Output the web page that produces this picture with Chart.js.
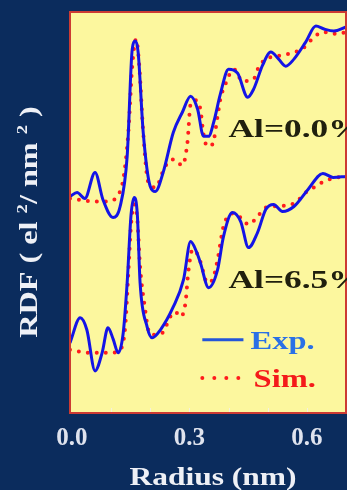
<!DOCTYPE html>
<html>
<head>
<meta charset="utf-8">
<script src="https://cdn.jsdelivr.net/npm/chart.js@4.4.1/dist/chart.umd.min.js"></script>
<style>
  html, body { margin: 0; padding: 0; background: #0b2c5d; }
  #wrap { width: 347px; height: 490px; }
</style>
</head>
<body>
<div id="wrap"><canvas id="rdf"></canvas></div>
<script>
// Al = 0.0 %  (upper pair, offset curves)
const radiusExp0 = [-0.005, 0.013, 0.033, 0.059, 0.079, 0.105, 0.123, 0.141, 0.154, 0.162, 0.169, 0.182, 0.200, 0.213, 0.233, 0.259, 0.282, 0.303, 0.321, 0.336, 0.349, 0.362, 0.379, 0.400, 0.423, 0.449, 0.464, 0.487, 0.508, 0.528, 0.546, 0.567, 0.597, 0.623, 0.644, 0.669, 0.700];
const rdfExp0    = [2.16, 2.20, 2.14, 2.40, 2.13, 1.95, 2.06, 2.56, 3.63, 3.71, 3.60, 2.80, 2.26, 2.21, 2.40, 2.80, 3.00, 3.16, 3.03, 2.76, 2.76, 2.90, 3.18, 3.43, 3.39, 3.15, 3.23, 3.47, 3.60, 3.53, 3.46, 3.53, 3.70, 3.86, 3.83, 3.81, 3.85];
const radiusSim0 = [-0.005, 0.064, 0.090, 0.115, 0.131, 0.144, 0.154, 0.164, 0.172, 0.182, 0.195, 0.213, 0.238, 0.259, 0.282, 0.295, 0.303, 0.315, 0.328, 0.336, 0.346, 0.359, 0.372, 0.379, 0.392, 0.413, 0.436, 0.464, 0.477, 0.495, 0.526, 0.551, 0.577, 0.597, 0.618, 0.644, 0.679, 0.700];
const rdfSim0    = [2.14, 2.11, 2.11, 2.16, 2.33, 2.80, 3.46, 3.73, 3.46, 2.80, 2.30, 2.25, 2.46, 2.53, 2.47, 2.70, 3.08, 3.12, 3.03, 2.78, 2.66, 2.68, 2.96, 3.13, 3.28, 3.43, 3.31, 3.33, 3.45, 3.53, 3.56, 3.58, 3.61, 3.66, 3.75, 3.80, 3.78, 3.80];

// Al = 6.5 %  (lower pair)
const radiusExp65 = [-0.005, 0.021, 0.038, 0.059, 0.077, 0.092, 0.105, 0.118, 0.131, 0.141, 0.151, 0.159, 0.167, 0.174, 0.192, 0.205, 0.226, 0.259, 0.285, 0.303, 0.318, 0.328, 0.349, 0.372, 0.387, 0.410, 0.431, 0.451, 0.474, 0.495, 0.515, 0.538, 0.567, 0.603, 0.641, 0.667, 0.700];
const rdfExp65    = [0.70, 0.95, 0.83, 0.42, 0.60, 0.85, 0.74, 0.60, 0.80, 1.30, 1.98, 2.15, 1.98, 1.30, 0.86, 0.75, 0.83, 1.06, 1.33, 1.71, 1.61, 1.50, 1.25, 1.43, 1.76, 2.00, 1.91, 1.65, 1.80, 2.03, 2.08, 2.01, 2.06, 2.23, 2.39, 2.35, 2.36];
const radiusSim65 = [-0.005, 0.046, 0.097, 0.123, 0.136, 0.144, 0.151, 0.159, 0.167, 0.174, 0.187, 0.195, 0.205, 0.231, 0.251, 0.264, 0.277, 0.290, 0.297, 0.308, 0.318, 0.328, 0.346, 0.359, 0.372, 0.387, 0.410, 0.431, 0.451, 0.474, 0.495, 0.551, 0.577, 0.597, 0.618, 0.644, 0.679, 0.700];
const rdfSim65    = [0.63, 0.60, 0.60, 0.63, 0.86, 1.40, 1.88, 2.08, 1.93, 1.46, 1.03, 0.83, 0.78, 0.80, 0.96, 1.01, 0.96, 1.10, 1.40, 1.63, 1.60, 1.51, 1.30, 1.33, 1.53, 1.86, 1.99, 1.95, 1.88, 1.96, 2.05, 2.07, 2.12, 2.20, 2.25, 2.31, 2.35, 2.36];

const xTicks = [0.0, 0.1, 0.2, 0.3, 0.4, 0.5, 0.6];
const xLabels = [0.0, 0.3, 0.6];
const curveLabels = ['Al=0.0%', 'Al=6.5%'];
const seriesNames = ['Exp.', 'Sim.'];

const toPoints = (xs, ys) => xs.map((x, i) => ({ x: x, y: ys[i] }));

const SERIF = "'Liberation Serif', 'Times New Roman', serif";
const BLUE = '#1414e6';
const RED = '#ff1c1c';

// text helper, stretched a bit wider like the original bitmap fonts
function stretchedText(ctx, str, x, y, size, color, sx, align) {
    ctx.save();
    ctx.font = 'bold ' + size + 'px ' + SERIF;
    ctx.fillStyle = color;
    ctx.textBaseline = 'alphabetic';
    const w = ctx.measureText(str).width * sx;
    let left = x;
    if (align == 'center') left = x - w / 2;
    ctx.translate(left, y);
    ctx.scale(sx, 1);
    ctx.fillText(str, 0, 0);
    ctx.restore();
}

const decorations = {
    id: 'decorations',
    beforeDraw(chart) {
        const { ctx, chartArea: a } = chart;
        ctx.save();
        ctx.fillStyle = '#0b2c5d';
        ctx.fillRect(0, 0, chart.width, chart.height);
        ctx.fillStyle = '#fcf79e';
        ctx.fillRect(a.left, a.top, a.right - a.left, a.bottom - a.top);
        ctx.restore();
    },
    afterDraw(chart) {
        const { ctx, chartArea: a, scales } = chart;
        const xs = scales.x, ys = scales.y;

        // frame
        ctx.save();
        ctx.strokeStyle = '#cc3b33';
        ctx.lineWidth = 2;
        ctx.strokeRect(a.left, a.top, a.right - a.left, a.bottom - a.top);

        // small inner ticks on the bottom edge
        ctx.strokeStyle = '#f4f0e0';
        ctx.lineWidth = 1;
        xs.ticks.forEach(t => {
            if (t.value <= 0) return;
            const px = Math.round(xs.getPixelForValue(t.value)) + 0.5;
            ctx.beginPath();
            ctx.moveTo(px, a.bottom - 1);
            ctx.lineTo(px, a.bottom - 5);
            ctx.stroke();
        });
        ctx.restore();

        // curve labels
        stretchedText(ctx, curveLabels[0], xs.getPixelForValue(0.4), ys.getPixelForValue(2.75), 26, '#20200e', 1.36, 'left');
        stretchedText(ctx, curveLabels[1], xs.getPixelForValue(0.4), ys.getPixelForValue(1.25), 26, '#20200e', 1.36, 'left');

        // legend
        ctx.save();
        const ly1 = ys.getPixelForValue(0.73);
        ctx.strokeStyle = '#2456d8';
        ctx.lineWidth = 3;
        ctx.beginPath();
        ctx.moveTo(xs.getPixelForValue(0.333), ly1);
        ctx.lineTo(xs.getPixelForValue(0.438), ly1);
        ctx.stroke();
        const ly2 = ys.getPixelForValue(0.35);
        ctx.strokeStyle = RED;
        ctx.lineWidth = 4;
        ctx.lineCap = 'round';
        ctx.setLineDash([0, 12]);
        ctx.beginPath();
        ctx.moveTo(xs.getPixelForValue(0.333), ly2);
        ctx.lineTo(xs.getPixelForValue(0.43), ly2);
        ctx.stroke();
        ctx.restore();
        stretchedText(ctx, seriesNames[0], xs.getPixelForValue(0.456), ly1 + 9, 26, '#2a70e6', 1.25, 'left');
        stretchedText(ctx, seriesNames[1], xs.getPixelForValue(0.464), ly2 + 9, 26, '#f41a1a', 1.25, 'left');

        // axis titles
        stretchedText(ctx, 'Radius (nm)', 213, 485, 25, '#eef0f6', 1.26, 'center');

        ctx.save();
        ctx.translate(37, 222);
        ctx.rotate(-Math.PI / 2);
        const parts = [['RDF ( el ', 26, 0], ['2', 15, -10], ['/ nm ', 26, 0], ['2', 15, -10], [' )', 26, 0]];
        const sx = 1.24;
        let total = 0;
        parts.forEach(p => { ctx.font = 'bold ' + p[1] + 'px ' + SERIF; total += ctx.measureText(p[0]).width * sx; });
        let cx = -total / 2;
        ctx.fillStyle = '#eef0f6';
        parts.forEach(p => {
            ctx.font = 'bold ' + p[1] + 'px ' + SERIF;
            const w = ctx.measureText(p[0]).width * sx;
            ctx.save();
            ctx.translate(cx, p[2]);
            ctx.scale(sx, 1);
            ctx.fillText(p[0], 0, 0);
            ctx.restore();
            cx += w;
        });
        ctx.restore();
    }
};

const ctx = document.getElementById('rdf');
new Chart(ctx, {
    type: 'line',
    data: {
        datasets: [
            { label: 'Exp. Al=0.0%', data: toPoints(radiusExp0, rdfExp0), borderColor: BLUE, borderWidth: 3 },
            { label: 'Exp. Al=6.5%', data: toPoints(radiusExp65, rdfExp65), borderColor: BLUE, borderWidth: 3 },
            { label: 'Sim. Al=0.0%', data: toPoints(radiusSim0, rdfSim0), borderColor: RED, borderWidth: 4, borderDash: [0, 9], borderCapStyle: 'round' },
            { label: 'Sim. Al=6.5%', data: toPoints(radiusSim65, rdfSim65), borderColor: RED, borderWidth: 4, borderDash: [0, 9], borderCapStyle: 'round' }
        ]
    },
    options: {
        responsive: true,
        maintainAspectRatio: false,
        animation: false,
        layout: { padding: { left: 70, right: 1, top: 12, bottom: 0 } },
        elements: {
            point: { radius: 0 },
            line: { cubicInterpolationMode: 'monotone', fill: false }
        },
        plugins: {
            legend: { display: false },
            tooltip: { enabled: false }
        },
        scales: {
            x: {
                type: 'linear',
                min: -0.005,
                max: 0.7,
                afterBuildTicks(scale) { scale.ticks = xTicks.map(v => ({ value: v })); },
                afterFit(scale) { scale.height = 77; },
                grid: { display: false, drawTicks: false },
                border: { display: false },
                ticks: {
                    autoSkip: false,
                    maxRotation: 0,
                    padding: 11,
                    color: '#dfe3ee',
                    font: { family: SERIF, size: 25, weight: 'bold' },
                    callback: v => xLabels.some(l => Math.abs(l - v) < 1e-6) ? v.toFixed(1) : ''
                }
            },
            y: {
                display: false,
                min: 0,
                max: 4
            }
        }
    },
    plugins: [decorations]
});
</script>
</body>
</html>
